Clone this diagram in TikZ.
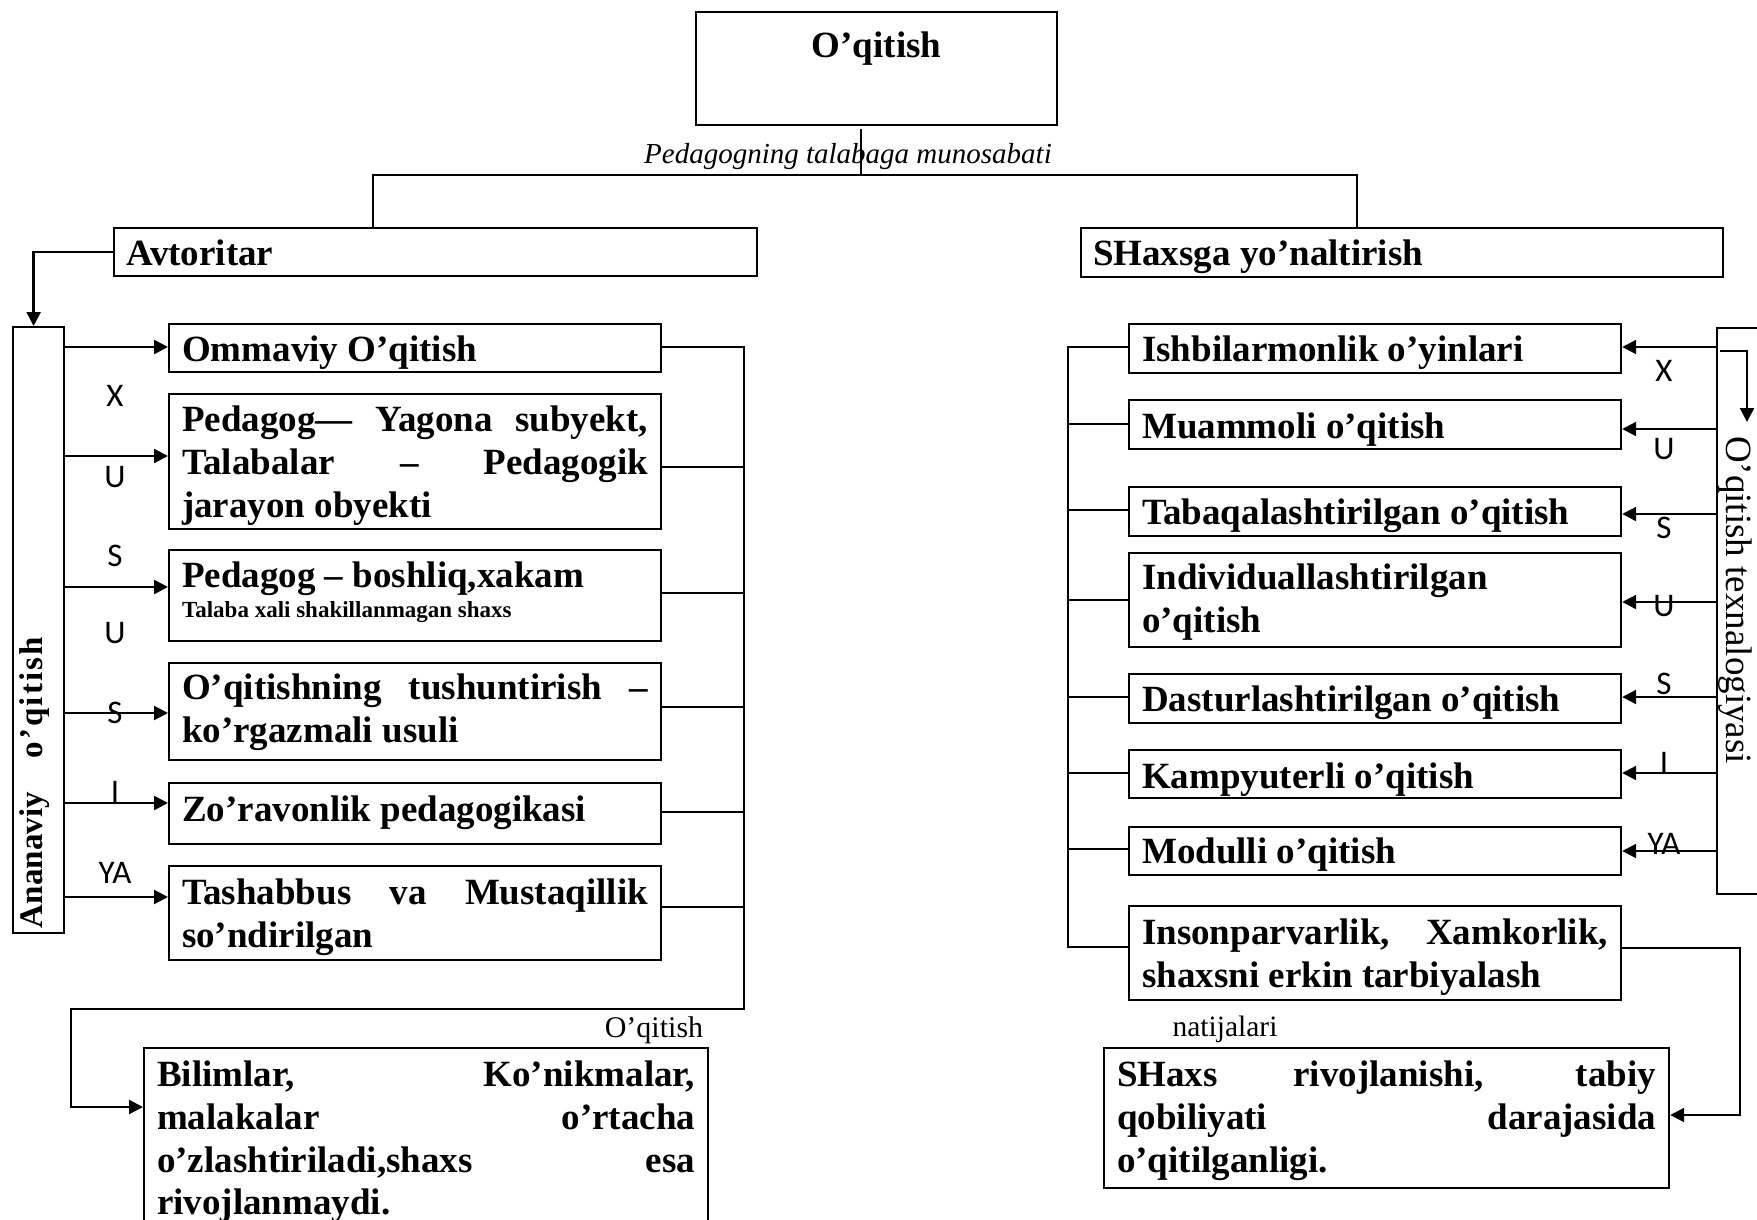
\documentclass[tikz,border=0pt]{standalone}
\usepackage{fontspec}
\setmainfont{Liberation Serif}
\newfontfamily\lettersans{Carlito}
\usetikzlibrary{arrows.meta}

% body of a framed box: width, height, first baseline below the top edge, lines
\newcommand\boxbody[4]{%
  \parbox[c][#2][t]{#1}{\fontsize{37}{43}\selectfont\bfseries
    \vspace*{\dimexpr#3-30.1pt\relax}\noindent\strut#4}}
% a line stretched to the full measure
\newcommand\fullline[2]{\makebox[#1][s]{#2}}

\begin{document}
\begin{tikzpicture}[x=1pt,y=-1pt,
  frame/.style={draw, line width=2.2pt, anchor=north west, inner sep=0pt},
  boxed/.style={frame, inner xsep=13pt},
  link/.style={line width=2pt},
  arr/.style={line width=2.3pt, -{Triangle[length=14pt,width=14pt]}},
  letter/.style={font=\lettersans\fontsize{33}{33}\selectfont, inner sep=0pt},
  note/.style={anchor=base, inner sep=0pt},
]
\useasboundingbox (0,0) rectangle (1757,1219);
\fill[white] (0,0) rectangle (1757,1219);
\clip (0,0) rectangle (1757,1219);

% ---- top of the tree
\node[boxed] (top) at (695,11) {\boxbody{335pt}{113pt}{45pt}{\makebox[335pt][c]{O’qitish}}};
\node[note, font=\itshape\fontsize{29}{29}\selectfont] (rel) at (848,163) {Pedagogning talabaga munosabati};
\node[frame, inner xsep=12pt] (avt) at (113,227) {\boxbody{619pt}{48pt}{37pt}{Avtoritar}};
\node[frame, inner xsep=12pt] (sh) at (1080,227) {\boxbody{618pt}{49pt}{37pt}{SHaxsga yo’naltirish}};

% ---- traditional teaching (left column)
\node[frame, minimum width=51pt, minimum height=606pt] (ana) at (12,326) {};
\node[note, rotate=90, font=\bfseries\fontsize{33}{33}\selectfont] (anatext) at (42,782.5)
  {\makebox[291pt][s]{Ananaviy {\addfontfeature{LetterSpace=6.5}o’qitish}}};

\node[boxed] (b1) at (168,323) {\boxbody{466pt}{48pt}{37pt}{Ommaviy O’qitish}};
\node[boxed] (b2) at (168,393) {\boxbody{466pt}{135pt}{37pt}{%
  \fullline{466pt}{Pedagog— Yagona subyekt,}\\
  \fullline{466pt}{Talabalar – Pedagogik}\\
  jarayon obyekti}};
\node[boxed] (b3) at (168,549) {\boxbody{466pt}{91pt}{37pt}{%
  Pedagog – boshliq,xakam\\[-13pt]
  {\fontsize{23}{26}\selectfont Talaba xali shakillanmagan shaxs}}};
\node[boxed] (b4) at (168,662) {\boxbody{466pt}{97pt}{36pt}{%
  \fullline{466pt}{O’qitishning tushuntirish –}\\
  ko’rgazmali usuli}};
\node[boxed] (b5) at (168,782) {\boxbody{466pt}{61pt}{38pt}{Zo’ravonlik pedagogikasi}};
\node[boxed] (b6) at (168,865) {\boxbody{466pt}{94pt}{38pt}{%
  \fullline{466pt}{Tashabbus va Mustaqillik}\\
  so’ndirilgan}};

\node[note, font=\fontsize{30}{30}\selectfont] (res1) at (654,1037) {O’qitish};
\node[boxed] (bil) at (143,1047) {\boxbody{538pt}{200pt}{38pt}{%
  \fullline{538pt}{Bilimlar, Ko’nikmalar,}\\
  \fullline{538pt}{malakalar o’rtacha}\\
  \fullline{538pt}{o’zlashtiriladi,shaxs esa}\\[-1pt]
  rivojlanmaydi.}};

% ---- learner-centred teaching (right column)
\node[boxed] (r1) at (1128,323) {\boxbody{466pt}{49pt}{37pt}{Ishbilarmonlik o’yinlari}};
\node[boxed] (r2) at (1128,399) {\boxbody{466pt}{49pt}{38pt}{Muammoli o’qitish}};
\node[boxed] (r3) at (1128,486) {\boxbody{466pt}{49pt}{37pt}{Tabaqalashtirilgan o’qitish}};
\node[boxed] (r4) at (1128,552) {\boxbody{466pt}{94pt}{36pt}{Individuallashtirilgan\\ o’qitish}};
\node[boxed] (r5) at (1128,673) {\boxbody{466pt}{49pt}{37pt}{Dasturlashtirilgan o’qitish}};
\node[boxed] (r6) at (1128,749) {\boxbody{466pt}{48pt}{38pt}{Kampyuterli o’qitish}};
\node[boxed] (r7) at (1128,826) {\boxbody{466pt}{48pt}{36pt}{Modulli o’qitish}};
\node[boxed] (r8) at (1128,905) {\boxbody{466pt}{94pt}{38pt}{%
  \fullline{466pt}{Insonparvarlik, Xamkorlik,}\\
  shaxsni erkin tarbiyalash}};

\node[frame, minimum width=70pt, minimum height=566pt] (tech) at (1716,327) {};
\node[note, rotate=-90, font=\fontsize{37}{37}\selectfont] (techtext) at (1726,600) {O’qitish texnalogiyasi};

\node[note, font=\fontsize{29.5}{29.5}\selectfont] (res2) at (1225,1036) {natijalari};
\node[boxed] (shx) at (1103,1047) {\boxbody{539pt}{140pt}{38pt}{%
  \fullline{539pt}{SHaxs rivojlanishi, tabiy}\\
  \fullline{539pt}{qobiliyati darajasida}\\
  o’qitilganligi.}};

% ---- letters along the arrows
\foreach \t/\y [count=\i] in {X/396, U/477, S/556, U/633, S/713, I/792, YA/873}
  \node[letter] (ll\i) at (115,\y) {\t};
\foreach \t/\y [count=\i] in {X/371, U/449, S/528, U/606, S/684, I/763, YA/844}
  \node[letter] (rl\i) at (1664,\y) {\t};

% ---- connectors
\coordinate (hub) at (861,175);
\coordinate (hubL) at (373,175);
\coordinate (hubR) at (1357,175);
\draw[link] ([yshift=-3pt]top.south -| hub) -- (hub);
\draw[link] (avt.north -| hubL) -- (hubL) -- (hubR) -- (sh.north -| hubR);

\draw[arr] (avt.west) -| ([xshift=-5pt]ana.north);

\foreach \n/\y in {b1/347, b2/456, b3/587, b4/713, b5/803, b6/897}
  \draw[arr] (ana.east |- 0,\y) -- (\n.west |- 0,\y);

\coordinate (lbus) at (744,347);
\coordinate (lturn) at (744,1009);
\coordinate (ldrop) at (71,1009);
\draw[arr] (b1.east |- lbus) -- (lbus) -- (lturn) -- (ldrop) |- (bil.west |- 0,1107);
\foreach \n/\y in {b2/467, b3/593, b4/707, b5/812, b6/907}
  \draw[link] (\n.east |- 0,\y) -- (lbus |- 0,\y);

\coordinate (rbusT) at (1068,347);
\coordinate (rbusB) at (1068,947);
\draw[link] (r1.west |- rbusT) -- (rbusT) -- (rbusB) -- (r8.west |- rbusB);
\foreach \n/\y in {r2/424, r3/510, r4/600, r5/697, r6/773, r7/849}
  \draw[link] (\n.west |- 0,\y) -- (rbusT |- 0,\y);

\foreach \n/\y in {r1/347, r2/429, r3/514, r4/602, r5/697, r6/773, r7/851}
  \draw[arr] (tech.west |- 0,\y) -- (\n.east |- 0,\y);

\coordinate (techdown) at (1747,422);
\draw[arr] (tech.west |- 0,351) ++(4,0) -| (techdown);

\coordinate (rturn) at (1740,948);
\draw[arr] (r8.east |- rturn) -- (rturn) |- (shx.east |- 0,1115);
\end{tikzpicture}
\end{document}
